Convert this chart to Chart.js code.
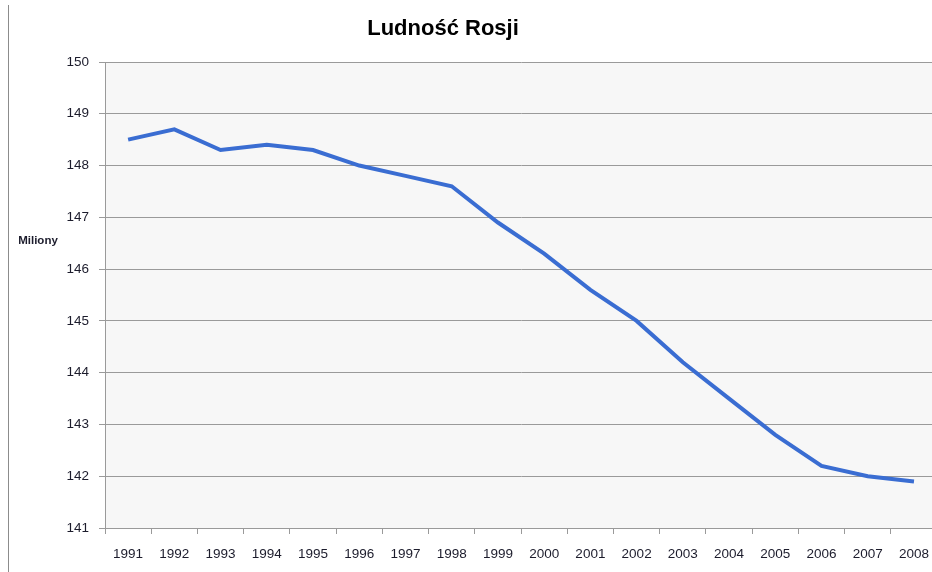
<!DOCTYPE html>
<html>
<head>
<meta charset="utf-8">
<script src="https://cdn.jsdelivr.net/npm/chart.js@4"></script>
<style>
  html, body { margin: 0; padding: 0; background: #fff; overflow: hidden; }
  #frame {
    position: absolute; left: 8px; top: 5px;
    width: 932px; height: 567px;
    border-left: 1px solid #8c8c8c;
  }
</style>
</head>
<body>
<div id="frame"><canvas id="chart"></canvas></div>
<script>
const years = ["1991", "1992", "1993", "1994", "1995", "1996", "1997", "1998", "1999",
               "2000", "2001", "2002", "2003", "2004", "2005", "2006", "2007", "2008"];
const population = [148.5, 148.7, 148.3, 148.4, 148.3, 148.0, 147.8, 147.6, 146.9,
                    146.3, 145.6, 145.0, 144.2, 143.5, 142.8, 142.2, 142.0, 141.9];
const chartTitle = "Ludność Rosji";
const unitLabel = "Miliony";

const TICK_FONT = { family: "'Liberation Sans', Arial, sans-serif", size: 13.5 };
const TICK_COLOR = "#1c1c2c";
const GRID = "#9a9a9a";

// grey plot background plus the title and unit text
const decorations = {
    id: "decorations",
    beforeDraw(chart) {
        const { ctx, chartArea: a } = chart;
        ctx.save();
        ctx.fillStyle = "#f7f7f7";
        ctx.fillRect(a.left, a.top, a.right - a.left, a.bottom - a.top);
        ctx.restore();
    },
    afterDraw(chart) {
        const { ctx } = chart;
        ctx.save();
        ctx.fillStyle = "#000";
        ctx.textAlign = "center";
        ctx.textBaseline = "alphabetic";
        ctx.font = "bold 22px 'Liberation Sans', Arial, sans-serif";
        ctx.fillText(chartTitle, 434, 30);
        ctx.fillStyle = TICK_COLOR;
        ctx.font = "bold 11.5px 'Liberation Sans', Arial, sans-serif";
        ctx.textBaseline = "middle";
        ctx.fillText(unitLabel, 29, 236);
        ctx.restore();
    }
};

new Chart(document.getElementById("chart"), {
    type: "line",
    data: {
        labels: years,
        datasets: [{
            data: population,
            borderColor: "#3a6dd2",
            borderWidth: 4,
            pointRadius: 0,
            tension: 0,
            fill: false
        }]
    },
    options: {
        responsive: true,
        maintainAspectRatio: false,
        animation: false,
        layout: { padding: { top: 57, left: 0, right: 0, bottom: 0 } },
        plugins: {
            legend: { display: false },
            title: { display: false },
            tooltip: { enabled: false }
        },
        scales: {
            x: {
                offset: true,
                grid: { offset: true, drawOnChartArea: false, drawTicks: true, tickLength: 6, color: GRID },
                border: { display: false },
                ticks: { color: TICK_COLOR, font: TICK_FONT, padding: 12, maxRotation: 0, autoSkip: false },
                afterFit(s) { s.height = 44; }
            },
            y: {
                min: 141,
                max: 150,
                grid: { color: GRID, tickLength: 6, lineWidth: 1 },
                border: { display: true, color: GRID },
                ticks: { stepSize: 1, color: TICK_COLOR, font: TICK_FONT, padding: 10 },
                afterFit(s) { s.width = 96; }
            }
        }
    },
    plugins: [decorations]
});
</script>
</body>
</html>
